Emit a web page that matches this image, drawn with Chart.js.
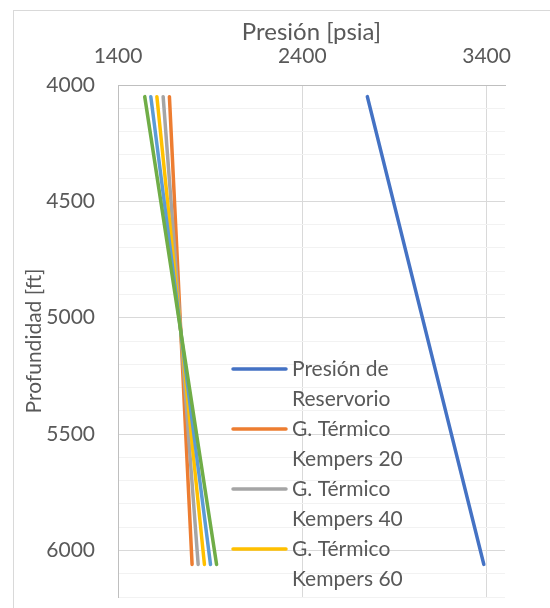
<!DOCTYPE html>
<html lang="es">
<head>
<meta charset="UTF-8">
<title>Presión vs Profundidad</title>
<script src="https://cdn.jsdelivr.net/npm/chart.js@4.4.0/dist/chart.umd.min.js"></script>
<style>
  body { margin: 0; background: #fff; overflow: hidden; }
  #caja { width: 550px; height: 608px; }
</style>
</head>
<body>
<div id="caja">
  <canvas id="grafico" width="550" height="608"></canvas>
</div>
<script>
// profundidades (ft) de los extremos de cada recta
var profundidad = [4050, 6060];

// presiones (psia)
var presionReservorio = [2753, 3385];
var kempers20 = [1679, 1802];
var kempers40 = [1645, 1835];
var kempers60 = [1611, 1869];
var kempers80 = [1578, 1902];
var kempers100 = [1545, 1935];

var nombres = [
    ['Presión de', 'Reservorio'],
    ['G. Térmico', 'Kempers 20'],
    ['G. Térmico', 'Kempers 40'],
    ['G. Térmico', 'Kempers 60'],
    ['G. Térmico', 'Kempers 80'],
    ['G. Térmico', 'Kempers 100']
];
var colores = ['#4472C4', '#ED7D31', '#A5A5A5', '#FFC000', '#5B9BD5', '#70AD47'];

var ticksX = [1400, 2400, 3400];

var gris = '#595959';
var fuente = 'Lato, "Open Sans", sans-serif';

function puntos(presiones) {
    var p = [];
    for (var i = 0; i < presiones.length; i++) {
        p.push({ x: presiones[i], y: profundidad[i] });
    }
    return p;
}

var series = [presionReservorio, kempers20, kempers40, kempers60, kempers80, kempers100];
var datasets = [];
for (var i = 0; i < series.length; i++) {
    datasets.push({
        label: nombres[i].join(' '),
        data: puntos(series[i]),
        showLine: true,
        borderColor: colores[i],
        backgroundColor: colores[i],
        borderWidth: 3.5,
        borderCapStyle: 'round',
        pointRadius: 0,
        tension: 0,
        order: series.length - i
    });
}

// marco exterior del gráfico
var marco = {
    id: 'marco',
    beforeDraw: function (chart) {
        var ctx = chart.ctx;
        ctx.save();
        ctx.strokeStyle = '#d9d9d9';
        ctx.lineWidth = 1;
        ctx.strokeRect(13.5, 10.5, 700, 700);
        ctx.restore();
    }
};

// leyenda dentro del área de trazado (como en Excel), solo las 4 primeras entradas
var leyenda = {
    id: 'leyenda',
    afterDraw: function (chart) {
        var ctx = chart.ctx;
        var x0 = 233, x1 = 286, xt = 292;
        var y = 369;
        ctx.save();
        ctx.font = '21px ' + fuente;
        ctx.textBaseline = 'middle';
        ctx.fillStyle = gris;
        for (var i = 0; i < 4; i++) {
            var ds = chart.data.datasets[i];
            ctx.strokeStyle = ds.borderColor;
            ctx.lineWidth = 3.5;
            ctx.lineCap = 'round';
            ctx.beginPath();
            ctx.moveTo(x0, y);
            ctx.lineTo(x1, y);
            ctx.stroke();
            for (var j = 0; j < nombres[i].length; j++) {
                ctx.fillText(nombres[i][j], xt, y + j * 30);
            }
            y += 60;
        }
        ctx.restore();
    }
};

var ctx = document.getElementById('grafico').getContext('2d');
var myChart = new Chart(ctx, {
    type: 'scatter',
    data: { datasets: datasets },
    options: {
        responsive: false,
        animation: false,
        devicePixelRatio: 1,
        layout: { padding: { left: 0, right: 45, top: 0, bottom: 11 } },
        plugins: {
            legend: { display: false },
            tooltip: { enabled: false }
        },
        scales: {
            x: {
                type: 'linear',
                position: 'top',
                min: 1400,
                max: 3500,
                afterBuildTicks: function (axis) {
                    axis.ticks = ticksX.map(function (v) { return { value: v }; });
                },
                afterFit: function (axis) {
                    axis.height = 85;
                    axis.paddingLeft = 0;
                    axis.paddingRight = 0;
                },
                ticks: {
                    color: gris,
                    font: { family: fuente, size: 21 },
                    padding: 16,
                    maxRotation: 0,
                    callback: function (v) { return String(v); }
                },
                grid: { color: '#d9d9d9', drawTicks: false },
                border: { color: '#bfbfbf', width: 1 },
                title: {
                    display: true,
                    text: 'Presión [psia]',
                    color: gris,
                    font: { family: fuente, size: 24 },
                    padding: { top: 18, bottom: 0 }
                }
            },
            y: {
                type: 'linear',
                reverse: true,
                min: 4000,
                max: 6200,
                afterFit: function (axis) {
                    axis.width = 118;
                    axis.paddingTop = 0;
                    axis.paddingBottom = 0;
                },
                ticks: {
                    stepSize: 100,
                    autoSkip: false,
                    color: gris,
                    font: { family: fuente, size: 21 },
                    padding: 23,
                    callback: function (v) { return v % 500 === 0 ? String(v) : ''; }
                },
                grid: {
                    drawTicks: false,
                    color: function (c) {
                        return c.tick && c.tick.value % 500 === 0 ? '#d9d9d9' : '#f2f2f2';
                    }
                },
                border: { color: '#bfbfbf', width: 1 },
                title: {
                    display: true,
                    text: 'Profundidad [ft]',
                    color: gris,
                    font: { family: fuente, size: 21 },
                    padding: { top: 22, bottom: 0 }
                }
            }
        }
    },
    plugins: [marco, leyenda]
});
</script>
</body>
</html>
